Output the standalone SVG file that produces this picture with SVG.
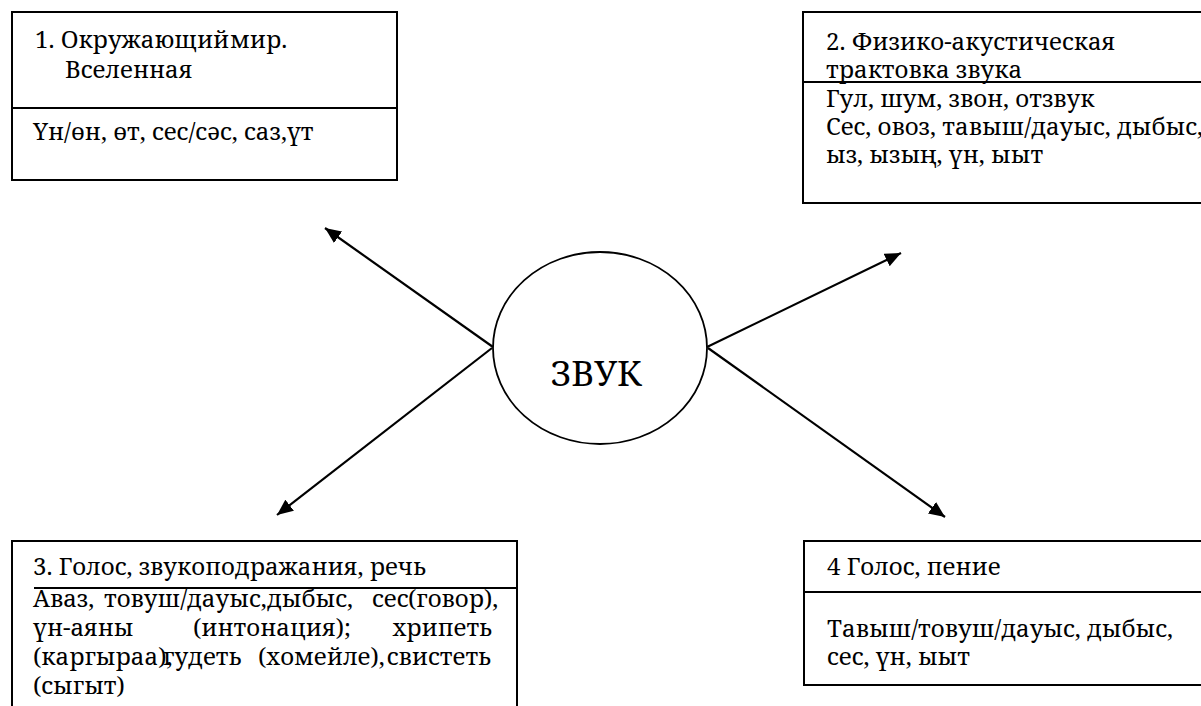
<svg xmlns="http://www.w3.org/2000/svg" width="1201" height="706" viewBox="0 0 1201 706">
<defs>
<marker id="ah" markerUnits="userSpaceOnUse" markerWidth="18" markerHeight="14" refX="16" refY="7" orient="auto">
<path d="M0,0 L16,7 L0,14 Z" fill="#000"/>
</marker>
</defs>
<rect width="1201" height="706" fill="#fff"/>

<g id="connectors" stroke="#000" stroke-width="2.2" fill="none">
<line x1="493" y1="347" x2="325" y2="228" marker-end="url(#ah)"/>
<line x1="707" y1="347" x2="901" y2="253" marker-end="url(#ah)"/>
<line x1="492" y1="348" x2="277" y2="515" marker-end="url(#ah)"/>
<line x1="708" y1="348" x2="945" y2="517" marker-end="url(#ah)"/>
</g>

<g id="center">
<ellipse cx="600" cy="348" rx="107" ry="96" fill="#fff" stroke="#000" stroke-width="1.8"/>
<text x="596" y="386" text-anchor="middle" font-family="'Noto Serif', 'DejaVu Serif', serif" font-size="35" fill="#000">ЗВУК</text>
</g>

<g id="box1" font-family="'Noto Serif', 'DejaVu Serif', serif" font-size="24" fill="#000">
<rect x="12" y="12" width="385" height="168" fill="#fff" stroke="#000" stroke-width="2"/>
<line x1="12" y1="108" x2="397" y2="108" stroke="#000" stroke-width="2"/>
<text x="35" y="48">1. Окружающий<tspan x="230">мир.</tspan></text>
<text x="65" y="78">Вселенная</text>
<text x="33" y="140">Үн/өн, өт, сес/сәс, саз,үт</text>
</g>

<g id="box2" font-family="'Noto Serif', 'DejaVu Serif', serif" font-size="24" fill="#000">
<rect x="803" y="12" width="410" height="191" fill="#fff" stroke="#000" stroke-width="2"/>
<line x1="803" y1="82" x2="1213" y2="82" stroke="#000" stroke-width="2"/>
<text x="826" y="50">2. Физико-акустическая</text>
<text x="826" y="78">трактовка звука</text>
<text x="826" y="107">Гул, шум, звон, отзвук</text>
<text x="826" y="135">Сес, овоз, тавыш/дауыс, дыбыс,</text>
<text x="826" y="163">ыз, ызың, үн, ыыт</text>
</g>

<g id="box3" font-family="'Noto Serif', 'DejaVu Serif', serif" font-size="24" fill="#000">
<rect x="12" y="541" width="505" height="180" fill="#fff" stroke="#000" stroke-width="2"/>
<line x1="34" y1="588" x2="517" y2="588" stroke="#000" stroke-width="2"/>
<text x="33" y="575">3. Голос, звукоподражания, речь</text>
<text y="607"><tspan x="33">Аваз,</tspan><tspan x="104">товуш/дауыс,</tspan><tspan x="267">дыбыс,</tspan><tspan x="372">сес</tspan><tspan x="408">(говор),</tspan></text>
<text y="636"><tspan x="33">үн-аяны</tspan><tspan x="193">(интонация);</tspan></text>
<text x="492" y="636" text-anchor="end">хрипеть</text>
<text y="665"><tspan x="33">(каргыраа),</tspan><tspan x="163">гудеть</tspan><tspan x="258">(хомейле),</tspan></text>
<text x="491" y="665" text-anchor="end">свистеть</text>
<text x="33" y="694">(сыгыт)</text>
</g>

<g id="box4" font-family="'Noto Serif', 'DejaVu Serif', serif" font-size="24" fill="#000">
<rect x="804" y="541" width="410" height="144" fill="#fff" stroke="#000" stroke-width="2"/>
<line x1="804" y1="592" x2="1214" y2="592" stroke="#000" stroke-width="2"/>
<text x="827" y="575">4 Голос, пение</text>
<text x="827" y="637">Тавыш/товуш/дауыс, дыбыс,</text>
<text x="827" y="665">сес, үн, ыыт</text>
</g>
</svg>
